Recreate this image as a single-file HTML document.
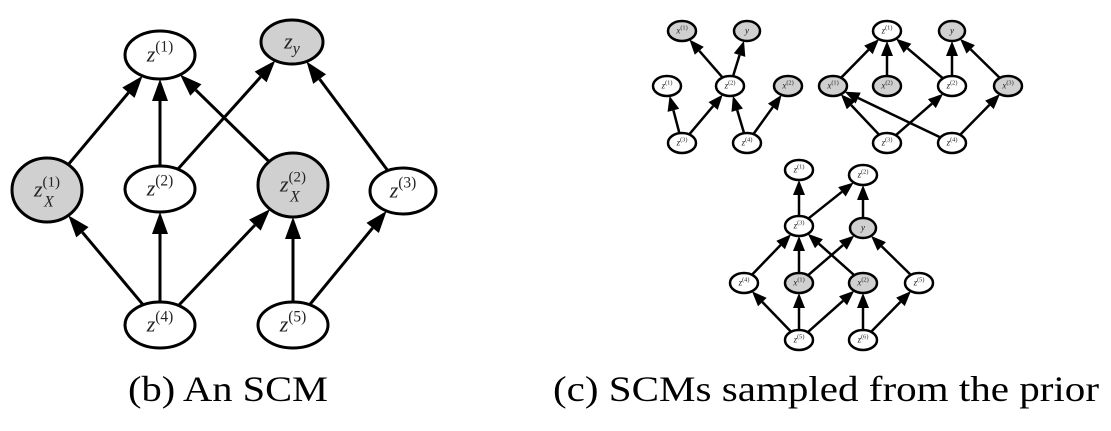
<!DOCTYPE html>
<html><head><meta charset="utf-8"><style>
html,body{margin:0;padding:0;background:#fff;width:1111px;height:431px;overflow:hidden}
svg text{font-family:"Liberation Serif","Times New Roman",Times,serif;font-style:italic;fill:#222}
</style></head><body>
<svg id="s" width="1111" height="431" viewBox="0 0 1111 431" xmlns="http://www.w3.org/2000/svg">
<text x="128" y="401" font-family="Liberation Serif, serif" textLength="200" lengthAdjust="spacingAndGlyphs" style="font-style:normal;font-size:36px;fill:#000">(b) An SCM</text>
<text x="553" y="401" font-family="Liberation Serif, serif" textLength="546" lengthAdjust="spacingAndGlyphs" style="font-style:normal;font-size:36px;fill:#000">(c) SCMs sampled from the prior</text>
</svg>
<script>
const S=document.getElementById('s'),NS='http://www.w3.org/2000/svg';
function el(t,a,p){const e=document.createElementNS(NS,t);for(const k in a)e.setAttribute(k,a[k]);(p||S).appendChild(e);return e;}
function graph(nodes,edges,sw,ah,aw,fs){
  for(const [a,b] of edges){
    const A=nodes[a],B=nodes[b];
    let dx=B.x-A.x,dy=B.y-A.y,L=Math.hypot(dx,dy);dx/=L;dy/=L;
    const ta=1/Math.sqrt((dx*dx)/(A.rx*A.rx)+(dy*dy)/(A.ry*A.ry));
    const tb=1/Math.sqrt((dx*dx)/(B.rx*B.rx)+(dy*dy)/(B.ry*B.ry));
    const sx=A.x+dx*ta,sy=A.y+dy*ta,ex=B.x-dx*tb,ey=B.y-dy*tb;
    const bx=ex-dx*ah,by=ey-dy*ah;
    el('line',{x1:sx,y1:sy,x2:bx,y2:by,stroke:'#000','stroke-width':sw});
    const px=-dy*aw,py=dx*aw;
    el('polygon',{points:`${ex},${ey} ${bx+px},${by+py} ${bx-px},${by-py}`,fill:'#000'});
  }
  for(const k in nodes){const n=nodes[k];
    el('ellipse',{cx:n.x,cy:n.y,rx:n.rx,ry:n.ry,fill:n.g?'#d0d0d0':'#fff',stroke:'#000','stroke-width':sw});
    const t=el('text',{x:n.x,y:n.y+fs*0.3,'text-anchor':'middle','font-size':fs,'font-family':'Liberation Serif, serif'});
    t.innerHTML=n.l;
  }
}
function N(x,y,rx,ry,l,g){return {x,y,rx,ry,l,g};}
const sup=(b,s,fs)=>`${b}<tspan dy="${-fs*0.45}" font-size="${fs*0.7}" style="font-style:normal">(${s})</tspan>`;
const F=22;
const big={
 z1:N(160,55,35,24,sup('z',1,F)),
 zy:N(292,42,31,22,'z<tspan dy="5" font-size="16">y</tspan>',1),
 x1:N(47,190,35,32,'z<tspan dy="-10" font-size="15" style="font-style:normal">(1)</tspan><tspan dx="-16" dy="20" font-size="16">X</tspan>',1),
 z2:N(160,189,35,23,sup('z',2,F)),
 x2:N(293,185,35,32,'z<tspan dy="-10" font-size="15" style="font-style:normal">(2)</tspan><tspan dx="-16" dy="20" font-size="16">X</tspan>',1),
 z3:N(403,191,33,23,sup('z',3,F)),
 z4:N(160,325,35,23,sup('z',4,F)),
 z5:N(293,325,35,23,sup('z',5,F))
};
graph(big,[['x1','z1'],['z2','z1'],['x2','z1'],['z2','zy'],['z3','zy'],['z4','x1'],['z4','z2'],['z4','x2'],['z5','x2'],['z5','z3']],3,22,8,F);
const f=9,r1=14,r2=10;
const sm=(x,y,b,s,g)=>N(x,y,r1,r2,sup(b,s,f),g);
const yN=(x,y)=>N(x,y,r1-1,r2,'y',1);
const SW=2.5,AH=15,AW=6;
graph({a:sm(682,31,'x',1,1),y:yN(747,31),z1:sm(667,86,'z',1),z2:sm(730,86,'z',2),x2:sm(788,86,'x',2,1),z3:sm(682,143,'z',3),z4:sm(747,143,'z',4)},
 [['z2','a'],['z2','y'],['z3','z1'],['z3','z2'],['z4','z2'],['z4','x2']],SW,AH,AW,f);
graph({z1:sm(887,31,'z',1),y:yN(952,31),x1:sm(833,86,'x',1,1),x2:sm(887,86,'x',2,1),z2:sm(952,86,'z',2),x3:sm(1008,86,'x',3,1),z3:sm(887,143,'z',3),z4:sm(952,143,'z',4)},
 [['x1','z1'],['x2','z1'],['z2','z1'],['z2','y'],['x3','y'],['z3','x1'],['z4','x1'],['z3','z2'],['z4','x3']],SW,AH,AW,f);
graph({z1:sm(799,170,'z',1),z2:sm(863,175,'z',2),z3:sm(799,226,'z',3),y:yN(863,228),z4:sm(744,283,'z',4),x1:sm(799,283,'x',1,1),x2:sm(863,283,'x',2,1),z5b:sm(919,283,'z',5),z5:sm(799,340,'z',5),z6:sm(863,340,'z',6)},
 [['z3','z1'],['z3','z2'],['y','z2'],['z4','z3'],['x1','z3'],['x2','z3'],['x1','y'],['z5b','y'],['z5','z4'],['z5','x1'],['z5','x2'],['z6','x2'],['z6','z5b']],SW,AH,AW,f);
</script>
</body></html>
